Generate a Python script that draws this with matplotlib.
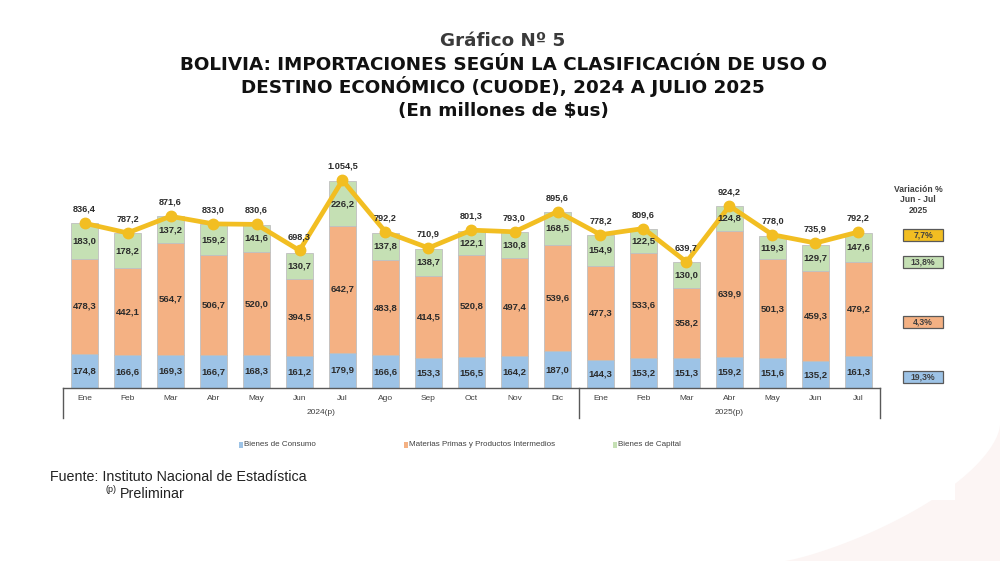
import matplotlib
matplotlib.use("Agg")
import matplotlib.pyplot as plt
from matplotlib.patches import Rectangle, Polygon
from matplotlib.transforms import blended_transform_factory
import numpy as np

plt.rcParams['font.family'] = ['Liberation Sans', 'DejaVu Sans']

months = ["Ene", "Feb", "Mar", "Abr", "May", "Jun", "Jul", "Ago", "Sep", "Oct", "Nov", "Dic",
          "Ene", "Feb", "Mar", "Abr", "May", "Jun", "Jul"]
years = ["2024(p)", "2025(p)"]
consumo = [174.8, 166.6, 169.3, 166.7, 168.3, 161.2, 179.9, 166.6, 153.3, 156.5, 164.2, 187.0,
           144.3, 153.2, 151.3, 159.2, 151.6, 135.2, 161.3]
materias = [478.3, 442.1, 564.7, 506.7, 520.0, 394.5, 642.7, 483.8, 414.5, 520.8, 497.4, 539.6,
            477.3, 533.6, 358.2, 639.9, 501.3, 459.3, 479.2]
capital = [183.0, 178.2, 137.2, 159.2, 141.6, 130.7, 226.2, 137.8, 138.7, 122.1, 130.8, 168.5,
           154.9, 122.5, 130.0, 124.8, 119.3, 129.7, 147.6]
total = [836.4, 787.2, 871.6, 833.0, 830.6, 698.3, 1054.5, 792.2, 710.9, 801.3, 793.0, 895.6,
         778.2, 809.6, 639.7, 924.2, 778.0, 735.9, 792.2]
series_names = ["Bienes de Consumo", "Materias Primas y Productos Intermedios", "Bienes de Capital"]
variacion = ["19,3%", "4,3%", "13,8%", "7,7%"]

c_blue = "#9DC3E6"
c_orange = "#F4B183"
c_green = "#C5E0B4"
c_gold = "#F2BE22"

def fmt(v):
    return f"{v:,.1f}".replace(",", "X").replace(".", ",").replace("X", ".")

fig = plt.figure(figsize=(10, 5.61), dpi=100)

# faint decorative background shape (bottom right)
t = np.linspace(0, 1, 40)
xs_curve = 785 + (1000 - 785) * (1 - (1 - t) ** 1.6)
ys_curve = 561 - (561 - 425) * t ** 1.2
pts = [(xv / 1000, 1 - yv / 561) for xv, yv in zip(xs_curve, ys_curve)] + [(1, 0)]
fig.patches.append(Polygon(pts, closed=True, transform=fig.transFigure,
                           facecolor="#FCF5F4", edgecolor="none", zorder=0))
fig.patches.append(Rectangle((0, 1 - 500 / 561), 955 / 1000, 33 / 561, transform=fig.transFigure,
                             facecolor="white", edgecolor="none", zorder=0))

ax = fig.add_axes([0.063, 1 - 388 / 561, 0.817, 223 / 561])
ax.patch.set_alpha(0)

x = np.arange(len(months))
w = 0.64
ec = "#BFBFBF"
ax.bar(x, consumo, w, color=c_blue, edgecolor=ec, linewidth=0.6)
ax.bar(x, materias, w, bottom=consumo, color=c_orange, edgecolor=ec, linewidth=0.6)
bot3 = np.array(consumo) + np.array(materias)
ax.bar(x, capital, w, bottom=bot3, color=c_green, edgecolor=ec, linewidth=0.6)

ax.plot(x, total, color=c_gold, linewidth=3.4, marker="o", markersize=7.5, zorder=5)

lab_kw = dict(ha="center", va="center", fontsize=6.8, fontweight="bold", color="#2B2B2B", zorder=6)
for i in x:
    ax.text(i, consumo[i] / 2, fmt(consumo[i]), **lab_kw)
    ax.text(i, consumo[i] + materias[i] / 2, fmt(materias[i]), **lab_kw)
    ax.text(i, bot3[i] + capital[i] / 2, fmt(capital[i]), **lab_kw)
    ax.annotate(fmt(total[i]), (i, total[i]), xytext=(0, 10), textcoords="offset points",
                ha="center", va="center", fontsize=6.6, color="#2B2B2B", fontweight="bold", zorder=6)

ax.set_xlim(-0.5, len(months) - 0.5)
ax.set_ylim(0, 1132)
ax.set_yticks([])
for s in ["top", "right", "left"]:
    ax.spines[s].set_visible(False)
ax.spines["bottom"].set_color("#595959")
ax.spines["bottom"].set_linewidth(1.0)
ax.set_xticks(x)
ax.set_xticklabels(months, fontsize=6, color="#404040")
ax.tick_params(axis="x", length=0, pad=5)

trans = blended_transform_factory(ax.transData, ax.transAxes)
for xv in [-0.5, 11.5, 18.5]:
    ax.plot([xv, xv], [0, -0.135], color="#595959", linewidth=1.0, transform=trans, clip_on=False)
ax.text(5.5, -0.112, years[0], transform=trans, ha="center", va="center", fontsize=6, color="#404040")
ax.text(15.0, -0.112, years[1], transform=trans, ha="center", va="center", fontsize=6, color="#404040")

# legend
ly = 1 - 445 / 561
for xs, name, col in zip([0.239, 0.404, 0.613], series_names, [c_blue, c_orange, c_green]):
    fig.patches.append(Rectangle((xs, ly - 0.005), 0.004, 0.010, transform=fig.transFigure,
                                 facecolor=col, edgecolor="none"))
    fig.text(xs + 0.005, ly, name, fontsize=5.8, color="#404040", va="center", ha="left")

# variation panel
fig.text(0.918, 1 - 200 / 561, "Variación %\nJun - Jul\n2025", ha="center", va="center",
         fontsize=6.2, fontweight="bold", color="#404040", linespacing=1.2)
boxes = [(377, c_blue, variacion[0]), (322, c_orange, variacion[1]),
         (262, c_green, variacion[2]), (235, c_gold, variacion[3])]
for yc, col, txt in boxes:
    fig.patches.append(Rectangle((903 / 1000, 1 - (yc + 6) / 561), 40 / 1000, 12 / 561,
                                 transform=fig.transFigure, facecolor=col, edgecolor="#595959",
                                 linewidth=0.9))
    fig.text(923 / 1000, 1 - yc / 561, txt, ha="center", va="center", fontsize=6.2,
             fontweight="bold", color="#404040")

# titles
tkw = dict(ha="center", va="baseline", fontsize=13.2, fontweight="bold", family="DejaVu Sans")
fig.text(0.503, 1 - 46 / 561, "Gráfico Nº 5", color="#3A3A3A", **tkw)
fig.text(0.503, 1 - 70 / 561, "BOLIVIA: IMPORTACIONES SEGÚN LA CLASIFICACIÓN DE USO O",
         color="#111111", **tkw)
fig.text(0.503, 1 - 93 / 561, "DESTINO ECONÓMICO (CUODE), 2024 A JULIO 2025",
         color="#111111", **tkw)
fig.text(0.503, 1 - 116 / 561, "(En millones de $us)", color="#111111", **tkw)

# footer
fig.text(0.050, 1 - 477 / 561, "Fuente: Instituto Nacional de Estadística", ha="left", va="center",
         fontsize=10.3, color="#222222")
fig.text(0.105, 1 - 489 / 561, "(p)", ha="left", va="center", fontsize=6.5, color="#222222")
fig.text(0.120, 1 - 494 / 561, "Preliminar", ha="left", va="center", fontsize=10.3,
         color="#222222")

fig.savefig("out.png", dpi=100)
